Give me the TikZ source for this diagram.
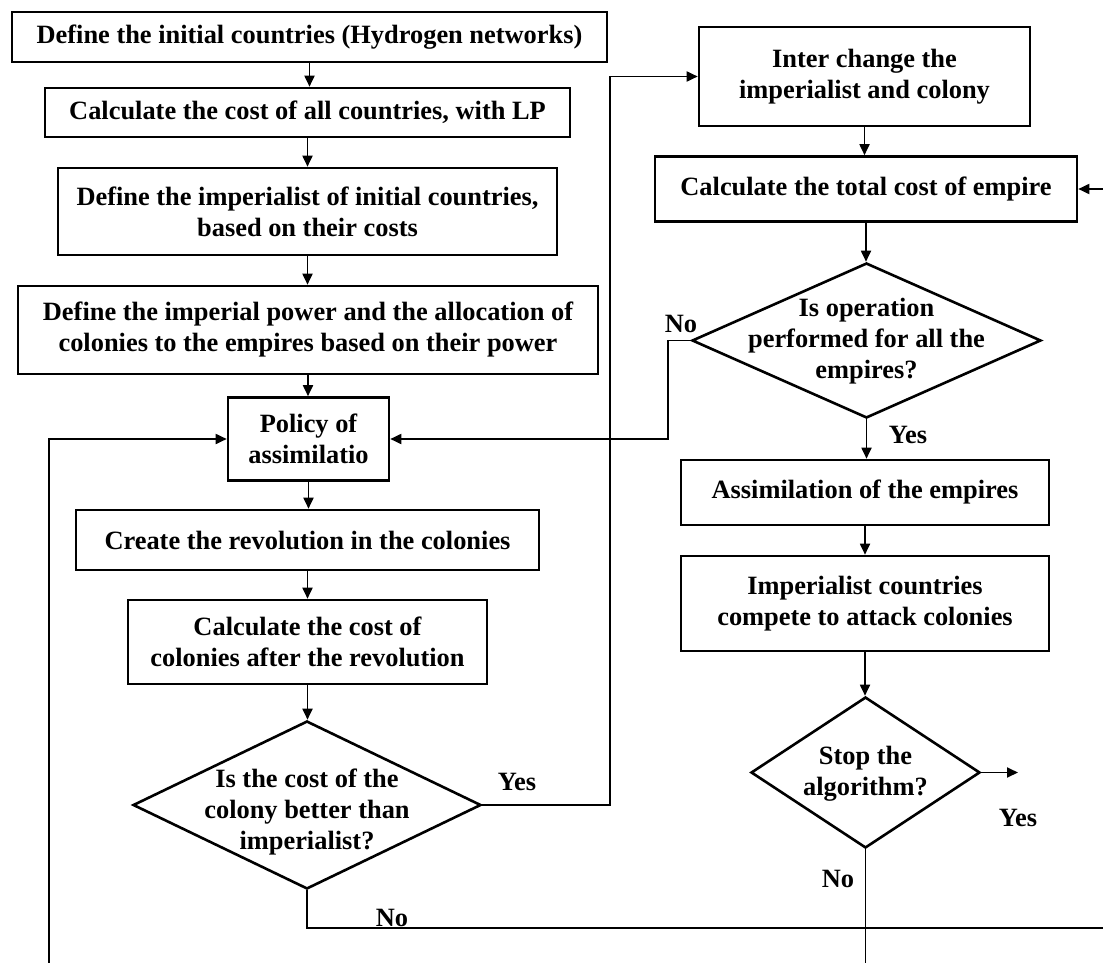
\documentclass[tikz,border=0pt]{standalone}
\usepackage{fontspec}
\setmainfont{Liberation Serif}
\usetikzlibrary{shapes.geometric,arrows.meta}
\begin{document}
\begin{tikzpicture}[x=1pt,y=-1pt,
 box/.style={draw,line width=2.6pt,inner sep=0pt,align=center,font=\bfseries\fontsize{26.4}{31}\selectfont},
 dia/.style={draw,diamond,line width=2.6pt,inner sep=0pt},
 txt/.style={align=center,inner sep=0pt,yshift=-3pt,font=\bfseries\fontsize{26.4}{31}\selectfont},
 con/.style={line width=1.8pt},
 arr/.style={con,-{Triangle[length=11pt,width=10pt]}},
]
\useasboundingbox (0,0) rectangle (1103,963);
% left column
\node[box,minimum width=595pt,minimum height=50pt] (b1) at (309.5,37) {Define the initial countries (Hydrogen networks)};
\node[box,minimum width=525pt,minimum height=49pt] (b2) at (307.5,112.5) {Calculate the cost of all countries, with LP};
\node[box,minimum width=499pt,minimum height=87pt] (b3) at (307.5,211.5) {Define the imperialist of initial countries,\\based on their costs};
\node[box,minimum width=580pt,minimum height=88pt] (b4) at (308,330) {Define the imperial power and the allocation of\\colonies to the empires based on their power};
\node[box,minimum width=161pt,minimum height=83pt] (b5) at (308.5,439) {Policy of\\assimilatio};
\node[box,minimum width=463pt,minimum height=60pt] (b6) at (307.5,540) {Create the revolution in the colonies};
\node[box,minimum width=359pt,minimum height=84pt] (b7) at (307.5,642) {Calculate the cost of\\colonies after the revolution};
\node[dia,minimum width=348pt,minimum height=168pt] (d1) at (307,805) {};
\node[txt] (t1) at (307,809) {Is the cost of the\\colony better than\\imperialist?};
% right column
\node[box,minimum width=331pt,minimum height=99pt] (b9) at (864.5,76.5) {Inter change the\\imperialist and colony};
\node[box,minimum width=422pt,minimum height=65pt] (b10) at (866,189) {Calculate the total cost of empire};
\node[dia,minimum width=349pt,minimum height=155pt] (d2) at (866.5,340.5) {};
\node[txt] (t2) at (866.5,338) {Is operation\\performed for all the\\empires?};
\node[box,minimum width=368pt,minimum height=65pt] (b12) at (865,492.5) {Assimilation of the empires};
\node[box,minimum width=368pt,minimum height=95pt] (b13) at (865,603.5) {Imperialist countries\\compete to attack colonies};
\node[dia,minimum width=229pt,minimum height=151pt] (d3) at (865.5,772.5) {};
\node[txt] (t3) at (865.5,771) {Stop the\\algorithm?};
% coordinates
\coordinate (c1) at (610,0);
\coordinate (c2) at (668,0);
\coordinate (L) at (49,963);
\coordinate (R1) at (1103,928);
\coordinate (R2) at (1103,189);
\coordinate (Y) at (1018,772.5);
\coordinate (B) at (866,963);
% connectors
\draw[arr] (b1.south) -- (b1.south |- b2.north);
\draw[arr] (b2.south) -- (b2.south |- b3.north);
\draw[arr] (b3.south) -- (b3.south |- b4.north);
\draw[arr] (b4.south) -- (b4.south |- b5.north);
\draw[arr] (b5.south) -- (b5.south |- b6.north);
\draw[arr] (b6.south) -- (b6.south |- b7.north);
\draw[arr] (b7.south) -- (b7.south |- d1.north);
\draw[arr] (d1.east) -- (d1.east -| c1) -- (c1 |- b9.west) -- (b9.west);
\draw[arr] (b9.south) -- (b9.south |- b10.north);
\draw[arr] (b10.south) -- (b10.south |- d2.north);
\draw[arr] (d2.south) -- (d2.south |- b12.north);
\draw[arr] (b12.south) -- (b12.south |- b13.north);
\draw[arr] (b13.south) -- (b13.south |- d3.north);
\draw[arr] (d2.west) -- (d2.west -| c2) -- (c2 |- b5.east) -- (b5.east);
\draw[arr] (L) |- (b5.west);
\draw[con] (d1.south) |- (R1);
\draw[arr] (R2) -- (b10.east);
\draw[arr] (d3.east) -- (Y);
\draw[con] (d3.south) -- (d3.south |- B);
% labels
\node[txt] (y1) at (517,779) {Yes};
\node[txt] (n1) at (681,321) {No};
\node[txt] (y2) at (908,432) {Yes};
\node[txt] (y3) at (1018,815) {Yes};
\node[txt] (n2) at (838,876) {No};
\node[txt] (n3) at (392,915) {No};
\end{tikzpicture}
\end{document}
